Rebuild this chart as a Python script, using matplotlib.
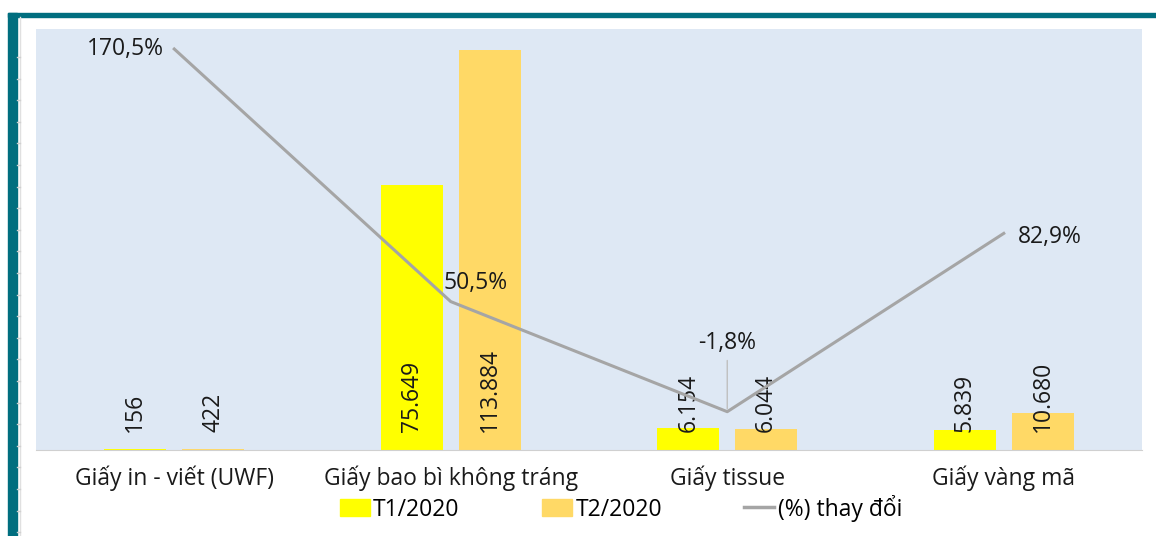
import numpy as np
import matplotlib
matplotlib.use('Agg')
import matplotlib.pyplot as plt
from matplotlib.patches import Patch, Rectangle
from matplotlib.lines import Line2D

plt.rcParams['font.family'] = ['Open Sans', 'DejaVu Sans']

categories = ['Giấy in - viết (UWF)', 'Giấy bao bì không tráng', 'Giấy tissue', 'Giấy vàng mã']
t1_2020 = [156, 75649, 6154, 5839]
t2_2020 = [422, 113884, 6044, 10680]
pct_change = [170.5, 50.5, -1.8, 82.9]
series_names = ['T1/2020', 'T2/2020', '(%) thay đổi']

c_t1 = '#FFFF00'
c_t2 = '#FFD966'
c_line = '#A5A5A5'
c_bg = '#DEE8F4'
c_teal = '#006E7F'
fs = 16.5


def fmt_num(v):
    return f'{v:,}'.replace(',', '.')


def fmt_pct(v):
    return f'{v:.1f}%'.replace('.', ',')


fig = plt.figure(figsize=(11.56, 5.36), dpi=100)
ax = fig.add_axes([36 / 1156, 86 / 536, 1106 / 1156, 421 / 536])
ax.set_facecolor(c_bg)

x = np.arange(len(categories))
w = 0.225
off = 0.141
ax.bar(x - off, t1_2020, w, color=c_t1, zorder=2)
ax.bar(x + off, t2_2020, w, color=c_t2, zorder=2)

for xi, v in zip(x - off, t1_2020):
    ax.annotate(fmt_num(v), (xi, 0), xytext=(0, 18), textcoords='offset pixels',
                rotation=90, ha='center', va='bottom', fontsize=fs, color='#1A1A1A', zorder=5)
for xi, v in zip(x + off, t2_2020):
    ax.annotate(fmt_num(v), (xi, 0), xytext=(0, 18), textcoords='offset pixels',
                rotation=90, ha='center', va='bottom', fontsize=fs, color='#1A1A1A', zorder=5)

ax.set_xlim(-0.5, 3.5)
ax.set_ylim(0, 120000)
ax.set_xticks(x)
ax.set_xticklabels(categories, fontsize=fs, color='#1A1A1A')
ax.tick_params(axis='x', length=0, pad=11)
ax.set_yticks([])
for s in ['top', 'left', 'right']:
    ax.spines[s].set_visible(False)
ax.spines['bottom'].set_color('#D0D0D0')

ax2 = ax.twinx()
ax2.plot(x, pct_change, color=c_line, lw=2.2, zorder=3)
ax2.set_ylim(-20, 180)
ax2.set_yticks([])
for s in ax2.spines.values():
    s.set_visible(False)

offsets = [(-10, 0, 'right'), (25, 19, 'center'), (0, 69, 'center'), (14, -4, 'left')]
for xi, p, (dx, dy, ha) in zip(x, pct_change, offsets):
    ax2.annotate(fmt_pct(p), (xi, p), xytext=(dx, dy), textcoords='offset pixels',
                 ha=ha, va='center', fontsize=fs, color='#1A1A1A', zorder=6)
# leader line for the -1,8% label
ax2.annotate('', (x[2], pct_change[2]), xytext=(0, 54), textcoords='offset pixels',
             arrowprops=dict(arrowstyle='-', color='#BFBFBF', lw=1))

handles = [Patch(color=c_t1), Patch(color=c_t2), Line2D([], [], color=c_line, lw=2.5)]
fig.legend(handles, series_names, loc='center', bbox_to_anchor=(621 / 1156, 1 - 508 / 536),
           ncol=3, frameon=False, fontsize=fs, handlelength=1.3, handleheight=0.8,
           handletextpad=0.15, columnspacing=3.6, borderpad=0)

# frame decoration on the top and left edge
fig.patches.append(Rectangle((8 / 1156, 1 - 17 / 536), 1 - 8 / 1156, 4 / 536,
                             transform=fig.transFigure, color=c_teal, zorder=0))
fig.patches.append(Rectangle((8 / 1156, 0), 9 / 1156, 1 - 13 / 536,
                             transform=fig.transFigure, color=c_teal, zorder=0))
fig.lines.append(Line2D([20 / 1156, 20 / 1156], [0, 1 - 17 / 536],
                        transform=fig.transFigure, color='#E0E0E0', lw=1))
for ty in np.arange(57, 536, 21.6):
    fig.lines.append(Line2D([17 / 1156, 20 / 1156], [1 - ty / 536, 1 - ty / 536],
                            transform=fig.transFigure, color='#D0D0D0', lw=1))

fig.savefig('out.png', dpi=100, facecolor='white')
